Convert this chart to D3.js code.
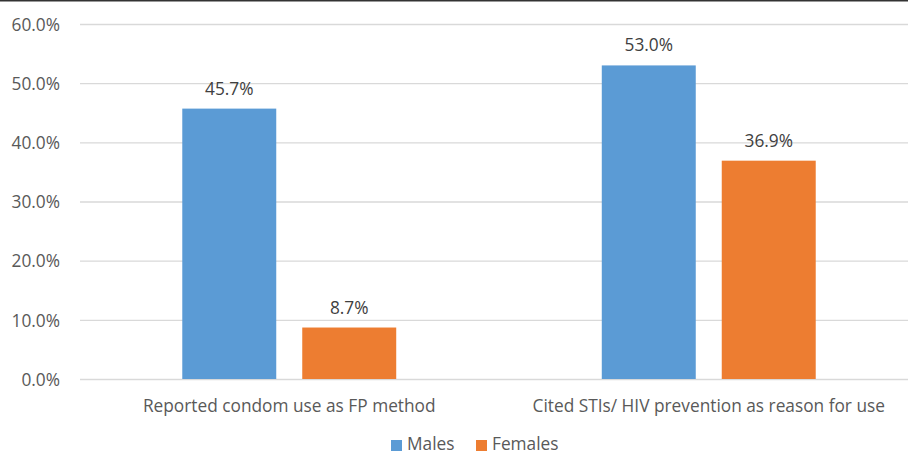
<!DOCTYPE html>
<html><head><meta charset="utf-8">
<script src="https://cdn.jsdelivr.net/npm/d3@7"></script>
<style>body{margin:0;background:#fff}svg{display:block}svg text{font-family:"Open Sans",sans-serif}</style>
</head><body><svg id="c" width="908" height="455"></svg>
<script>
const categories = ["Reported condom use as FP method", "Cited STIs/ HIV prevention as reason for use"];
const series = ["Males", "Females"];
const males = [45.7, 53.0];
const females = [8.7, 36.9];
const colors = ["#5b9bd5", "#ed7d31"];
const yTicks = [0, 10, 20, 30, 40, 50, 60];

const FS = "17.3px";
const svg = d3.select("#c");
const y = d3.scaleLinear().domain([0, 60]).range([379, 24]);
const x0 = d3.scaleBand().domain(categories).range([79.5, 918.5]).paddingInner(0.49).paddingOuter(0.245);
const x1 = d3.scaleBand().domain(series).range([0, x0.bandwidth()]).paddingInner(0.2167).paddingOuter(0);

svg.append("line").attr("x1",0).attr("x2",908).attr("y1",0.75).attr("y2",0.75).attr("stroke","#333").attr("stroke-width",1.5);

const yAxis = d3.axisLeft(y).tickValues(yTicks).tickFormat(d => d.toFixed(1) + "%").tickSize(-(918-80)).tickPadding(20);
const ga = svg.append("g").attr("transform","translate(80,0)").call(yAxis);
ga.attr("font-family", null);
ga.select(".domain").remove();
ga.selectAll(".tick line").attr("stroke","#d9d9d9").attr("stroke-width",1.3);
ga.selectAll(".tick text").attr("fill","#595959").attr("font-size",FS).attr("dy","0.36em");

const data = categories.map((c,i)=>({cat:c, vals:[males[i], females[i]]}));
const g = svg.append("g").selectAll("g").data(data).join("g").attr("transform", d=>`translate(${x0(d.cat)},0)`);
g.selectAll("rect").data(d=>d.vals.map((v,j)=>({s:series[j],v,j}))).join("rect")
  .attr("x",d=>x1(d.s)).attr("width",x1.bandwidth())
  .attr("y",d=>y(d.v)).attr("height",d=>y(0)-y(d.v)).attr("fill",d=>colors[d.j]);
g.selectAll("text.lbl").data(d=>d.vals.map((v,j)=>({s:series[j],v,j}))).join("text").attr("class","lbl")
  .attr("x",d=>x1(d.s)+x1.bandwidth()/2).attr("y",d=>y(d.v)-14)
  .attr("text-anchor","middle").attr("fill","#404040").attr("font-size",FS).text(d=>d.v.toFixed(1)+"%");

const gx = svg.append("g").attr("transform","translate(0,379)").call(d3.axisBottom(x0).tickSize(0).tickPadding(0));
gx.attr("font-family", null);
gx.select(".domain").remove();
gx.selectAll("text").attr("fill","#595959").attr("font-size",FS).attr("dy",null).attr("y",33);

const leg = svg.append("g");
const lx = [391, 476];
series.forEach((s,i)=>{
  leg.append("rect").attr("x",lx[i]).attr("y",440).attr("width",11).attr("height",11).attr("fill",colors[i]);
  leg.append("text").attr("x",lx[i]+16).attr("y",450).attr("fill","#595959").attr("font-size",FS).text(s);
});
</script></body></html>
